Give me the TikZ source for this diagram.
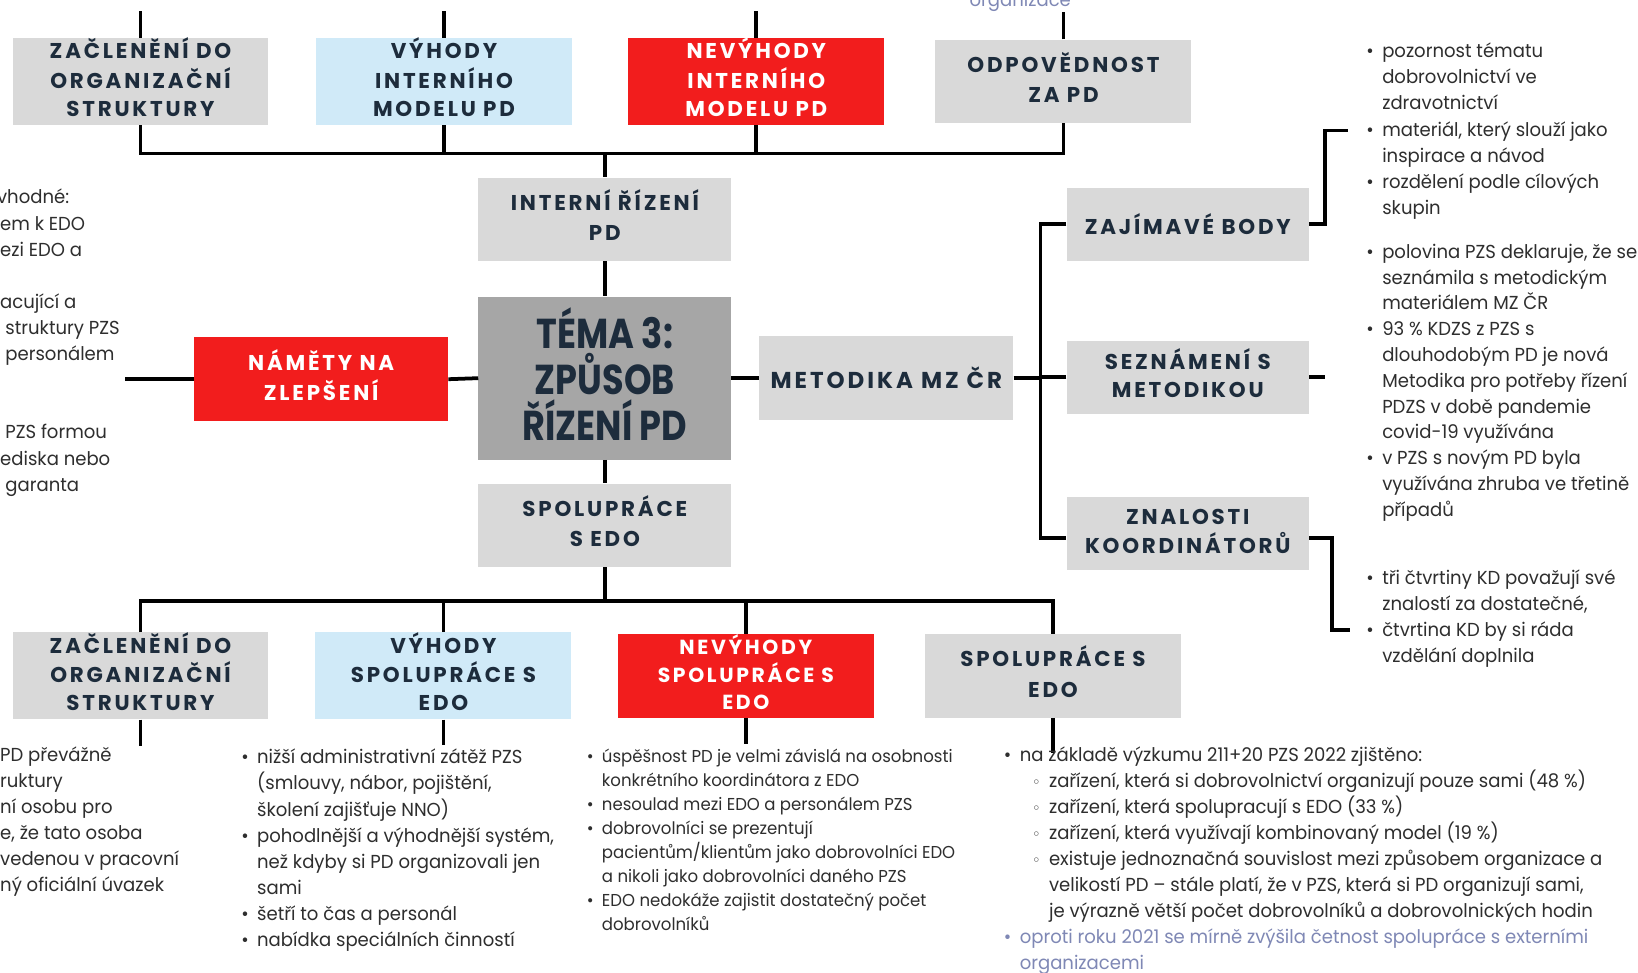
\documentclass[tikz,border=0pt]{standalone}
\usepackage{fontspec}
\setmainfont{Poppins}
\newfontfamily\bodyfont[FakeStretch=0.96]{Poppins}
\newfontfamily\headfont[LetterSpace=13]{Poppins}
\newfontfamily\titlefont[FakeStretch=0.84]{Poppins}
\newfontfamily\symfont{DejaVu Sans}

\definecolor{boxgray}{HTML}{D9D9D9}
\definecolor{boxblue}{HTML}{D0EAF8}
\definecolor{boxred}{HTML}{F21D1D}
\definecolor{titlegray}{HTML}{A6A6A6}
\definecolor{navy}{HTML}{1D2C3C}
\definecolor{bodytext}{HTML}{2E2E2E}
\definecolor{softblue}{HTML}{7F88B5}

% bullets hanging to the left of a text line
\newcommand{\bul}{\llap{•\hspace{8pt}}}
\newcommand{\sbul}{\llap{{\symfont\fontsize{14}{14}\selectfont ◦}\hspace{8pt}}}
% centred heading lines with a fixed line pitch
\newcommand{\hb}[1]{\begin{tabular}{@{}c@{}}#1\end{tabular}}

\tikzset{
  box/.style={rectangle, minimum width=245pt, minimum height=80pt, inner sep=0pt,
    text=navy, font=\headfont\bfseries\fontsize{20.5}{27}\selectfont},
  wide/.style={font=\headfont\bfseries\fontsize{20.5}{29}\selectfont},
  graybox/.style={box, fill=boxgray},
  bluebox/.style={box, fill=boxblue},
  redbox/.style={box, fill=boxred, text=white},
  sidebox/.style={graybox, minimum width=232pt, minimum height=70pt},
  centerbox/.style={graybox, minimum width=242pt},
  link/.style={line width=3.6pt, black},
  txt/.style={anchor=north west, inner sep=0pt, align=left, text=bodytext,
    font=\bodyfont\fontsize{18}{25}\selectfont},
  smalltxt/.style={txt, font=\bodyfont\fontsize{16.5}{22.9}\selectfont},
  ctxt/.style={txt, font=\bodyfont\fontsize{18}{24.9}\selectfont},
}

\begin{document}
\begin{tikzpicture}[x=1pt,y=-1pt]
\useasboundingbox (0,0) rectangle (1568,931);
\fill[white] (0,0) rectangle (1568,931);
\clip (0,0) rectangle (1568,931);

% ---------- central column ----------
\node[centerbox, wide] (int) at (579,210) {\hb{INTERNÍ ŘÍZENÍ\\PD}};
\node[centerbox, fill=titlegray, minimum height=156pt] (tema) at (579,362) {};
\node[inner sep=0pt, align=center, text=navy,
      font=\titlefont\bfseries\fontsize{40}{44}\selectfont] (tematext) at (579,358)
      {TÉMA 3:\\ZPŮSOB\\ŘÍZENÍ PD};
\node[centerbox, wide] (spo) at (579,503) {\hb{SPOLUPRÁCE\\S EDO}};

% ---------- top row ----------
\node[graybox] (b1) at (134.5,78) {\hb{ZAČLENĚNÍ DO\\ORGANIZAČNÍ\\STRUKTURY}};
\node[bluebox] (b2) at (425,78) {\hb{VÝHODY\\INTERNÍHO\\MODELU PD}};
\node[redbox]  (b3) at (724,78) {\hb{NEVÝHODY\\INTERNÍHO\\MODELU PD}};
\node[graybox, wide] (b4) at (1018,78) {\hb{ODPOVĚDNOST\\ZA PD}};

% ---------- bottom row ----------
\node[graybox] (c1) at (134.5,647) {\hb{ZAČLENĚNÍ DO\\ORGANIZAČNÍ\\STRUKTURY}};
\node[bluebox] (c2) at (424.5,647) {\hb{VÝHODY\\SPOLUPRÁCE S\\EDO}};
\node[redbox, font=\headfont\bfseries\fontsize{19.5}{26}\selectfont] (c3) at (714,647) {\hb{NEVÝHODY\\SPOLUPRÁCE S\\EDO}};
\node[graybox, wide] (c4) at (1008,647) {\hb{SPOLUPRÁCE S\\EDO}};

% ---------- side branches ----------
\node[redbox, minimum width=243pt, font=\headfont\bfseries\fontsize{20.5}{28}\selectfont] (nam) at (307.5,363) {\hb{NÁMĚTY NA\\ZLEPŠENÍ}};
\node[graybox, minimum width=243pt, font=\headfont\bfseries\fontsize{22}{28}\selectfont] (met) at (848.5,362) {METODIKA MZ ČR};
\node[sidebox] (zaj) at (1137,214.5) {ZAJÍMAVÉ BODY};
\node[sidebox] (sez) at (1137,361) {\hb{SEZNÁMENÍ S\\METODIKOU}};
\node[sidebox, font=\headfont\bfseries\fontsize{20.5}{25}\selectfont] (zna) at (1137,511) {\hb{ZNALOSTI\\KOORDINÁTORŮ}};

% ---------- connectors ----------
\coordinate (barT) at (579,147);
\coordinate (barB) at (579,575);
\coordinate (rtop) at (996,214.5);
\coordinate (rbot) at (996,515);
\coordinate (brA) at (1290,125);
\coordinate (brC) at (1292,603);

\draw[link] (b1.south) -- (b1.south |- barT) -- (b4.south |- barT) -- (b4.south);
\draw[link] (b2.south) -- (b2.south |- barT);
\draw[link] (b3.south) -- (b3.south |- barT);
\draw[link] (barT) -- (int.north);
\foreach \b in {b1,b2,b3,b4} \draw[link] (\b.north) -- ++(0,-26);

\draw[link] (int.south) -- (tema.north);
\draw[link] (tema.south) -- (spo.north);
\draw[link] (spo.south) -- (barB);
\draw[link] (c1.north) -- (c1.north |- barB) -- (c4.north |- barB) -- (c4.north);
\draw[link] (c2.north) -- (c2.north |- barB);
\draw[link] (c3.north) -- (c3.north |- barB);
\draw[link] (c1.south) -- ++(0,25);
\draw[link] (c2.south) -- ++(0,24);
\draw[link] (c3.south) -- ++(0,25);
\draw[link] (c4.south) -- ++(0,34);

\draw[link] (tema.west) -- (nam.east);
\draw[link] (nam.west) -- ++(-66,0);
\draw[link] (tema.east) -- (met.west);
\draw[link] (met.east) -- (met.east -| rtop);
\draw[link] (zaj.west) -- (rtop) -- (rbot) -- (rbot -| zna.west);
\draw[link] (sez.west) -- (sez.west -| rtop);

\draw[link] (zaj.east) -- ++(15,0) |- (brA);
\draw[link] (sez.east) -- ++(15,0);
\draw[link] (rbot -| zna.east) -- ++(22,0) |- (brC);

% ---------- text on the right ----------
\node[txt] (ra1) at (1323,37.5) {\strut\bul pozornost tématu\\dobrovolnictví ve\\zdravotnictví};
\node[txt] (ra2) at (1323,112.5) {\strut\bul materiál, který slouží jako\\inspirace a návod};
\node[txt] (ra3) at (1323,162.5) {\strut\bul rozdělení podle cílových\\skupin};

\node[txt, font=\bodyfont\fontsize{18}{24.7}\selectfont] (rb1) at (1323,229.7)
  {\strut\bul polovina PZS deklaruje, že se\\seznámila s metodickým\\materiálem MZ ČR};
\node[txt, font=\bodyfont\fontsize{18}{24.7}\selectfont] (rb2) at (1323,303.8)
  {\strut\bul 93 \% KDZS z PZS s\\dlouhodobým PD je nová\\Metodika pro potřeby řízení\\PDZS v době pandemie\\covid-19 využívána};
\node[txt, font=\bodyfont\fontsize{18}{24.7}\selectfont] (rb3) at (1323,427.3)
  {\strut\bul v PZS s novým PD byla\\využívána zhruba ve třetině\\případů};

\node[txt] (rc1) at (1323,541.5) {\strut\bul tři čtvrtiny KD považují své\\znalostí za dostatečné,};
\node[txt] (rc2) at (1323,591.5) {\strut\bul čtvrtina KD by si ráda\\vzdělání doplnila};

% ---------- text running off the left edge ----------
\node[txt] (lm) at (-3,177.5) {\strut vhodné:\\\hspace*{3pt}em k EDO\\\hspace*{3pt}ezi EDO a\\\strut\\\hspace*{3pt}acující a\\\hspace*{8pt}struktury PZS\\\hspace*{8pt}personálem\\\strut\\\strut\\\hspace*{8pt}PZS formou\\\hspace*{3pt}ediska nebo\\\hspace*{8pt}garanta};

\node[ctxt] (bl) at (0,711.6)
  {\strut PD převážně\\ruktury\\ní osobu pro\\e, že tato osoba\\vedenou v pracovní\\ný oficiální úvazek};

% ---------- text under the bottom row ----------
\node[txt] (d1) at (246,713.5) {\strut\bul nižší administrativní zátěž PZS\\(smlouvy, nábor, pojištění,\\školení zajišťuje NNO)};
\node[txt] (d2) at (246,788.5) {\strut\bul pohodlnější a výhodnější systém,\\než kdyby si PD organizovali jen\\sami};
\node[txt] (d3) at (246,863.5) {\strut\bul šetří to čas a personál};
\node[txt] (d4) at (246,888.5) {\strut\bul nabídka speciálních činností};

\node[smalltxt] (e1) at (576,714) {\strut\bul úspěšnost PD je velmi závislá na osobnosti\\konkrétního koordinátora z EDO};
\node[smalltxt] (e2) at (576,759.8) {\strut\bul nesoulad mezi EDO a personálem PZS};
\node[smalltxt] (e3) at (576,782.7) {\strut\bul dobrovolníci se prezentují\\pacientům/klientům jako dobrovolníci EDO\\a nikoli jako dobrovolníci daného PZS};
\node[smalltxt] (e4) at (576,851.4) {\strut\bul EDO nedokáže zajistit dostatečný počet\\dobrovolníků};

\node[ctxt] (f1) at (976,711.6) {\strut\bul na základě výzkumu 211+20 PZS 2022 zjištěno:};
\node[ctxt] (f2) at (1004,736.5) {\strut\sbul zařízení, která si dobrovolnictví organizují pouze sami (48 \%)};
\node[ctxt] (f3) at (1004,761.4) {\strut\sbul zařízení, která spolupracují s EDO (33 \%)};
\node[ctxt] (f4) at (1004,786.3) {\strut\sbul zařízení, která využívají kombinovaný model (19 \%)};
\node[ctxt] (f5) at (1004,811.2) {\strut\sbul existuje jednoznačná souvislost mezi způsobem organizace a\\velikostí PD – stále platí, že v PZS, která si PD organizují sami,\\je výrazně větší počet dobrovolníků a dobrovolnických hodin};
\node[ctxt, text=softblue] (f6) at (976,885.9) {\strut\bul oproti roku 2021 se mírně zvýšila četnost spolupráce s externími\\organizacemi};

% ---------- text running off the top edge ----------
\node[anchor=base west, inner sep=0pt, text=softblue, font=\bodyfont\fontsize{18}{25}\selectfont] (org) at (928,6) {organizace};

\end{tikzpicture}
\end{document}
